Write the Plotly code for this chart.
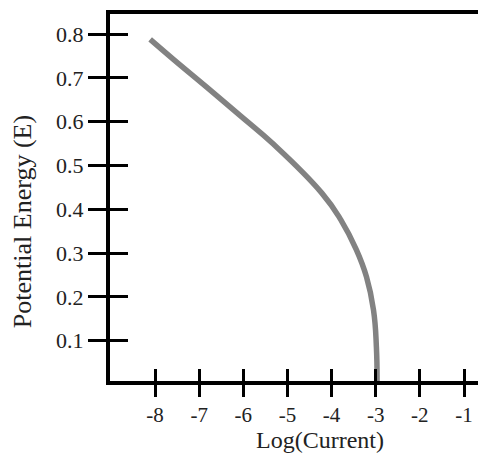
import plotly.graph_objects as go

# Data
log_current = [-8.11, -7.59, -6.83, -6.07, -5.32, -4.22, -3.79, -3.44, -3.21, -3.05, -2.985, -2.97]
potential = [0.788, 0.743, 0.679, 0.614, 0.549, 0.437, 0.376, 0.308, 0.246, 0.170, 0.086, 0.004]

x_tick_vals = [-8, -7, -6, -5, -4, -3, -2, -1]
x_tick_text = ["-8", "-7", "-6", "-5", "-4", "-3", "-2", "-1"]
y_tick_vals = [0.1, 0.2, 0.3, 0.4, 0.5, 0.6, 0.7, 0.8]
y_tick_text = ["0.1", "0.2", "0.3", "0.4", "0.5", "0.6", "0.7", "0.8"]

x_title = "Log(Current)"
y_title = "Potential Energy (E)"

x_range = [-9.02, -0.683]
y_range = [0.008, 0.846]

FONT = "Liberation Serif"
TXT = "#222222"

fig = go.Figure()
fig.add_trace(go.Scatter(
    x=log_current, y=potential, mode="lines",
    line=dict(color="#828282", width=5.5, shape="spline", smoothing=1.3),
    showlegend=False, hoverinfo="skip",
))
# invisible trace to activate the secondary (inside-tick) axes
fig.add_trace(go.Scatter(x=[None], y=[None], xaxis="x2", yaxis="y2", showlegend=False))

common = dict(showgrid=False, zeroline=False, tickcolor="black", tickwidth=3)

fig.update_layout(
    width=478, height=454,
    margin=dict(l=110, r=0, t=14, b=73),
    paper_bgcolor="white", plot_bgcolor="white",
    font=dict(family=FONT, color=TXT),
    xaxis=dict(range=x_range, tickvals=x_tick_vals, ticktext=x_tick_text,
               ticks="outside", ticklen=12, showline=True, linecolor="black",
               linewidth=4, mirror=True, tickfont=dict(family=FONT, size=21, color=TXT),
               fixedrange=True, **common),
    yaxis=dict(range=y_range, tickvals=y_tick_vals, ticktext=y_tick_text,
               ticks="outside", ticklen=18, showline=True, linecolor="black",
               linewidth=4, mirror=False, tickfont=dict(family=FONT, size=22, color=TXT),
               fixedrange=True, **common),
    xaxis2=dict(range=x_range, overlaying="x", anchor="y", side="bottom",
                tickvals=x_tick_vals, showticklabels=False, ticks="inside",
                ticklen=12, showline=False, fixedrange=True, **common),
    yaxis2=dict(range=y_range, overlaying="y", anchor="x", side="left",
                tickvals=y_tick_vals, showticklabels=False, ticks="inside",
                ticklen=18, showline=False, fixedrange=True, **common),
    annotations=[
        dict(text=x_title, xref="paper", yref="paper", x=0.571, y=-0.16,
             xanchor="center", yanchor="middle", showarrow=False,
             font=dict(family=FONT, size=24, color=TXT)),
        dict(text=y_title, xref="paper", yref="paper", x=-0.239, y=0.433,
             xanchor="center", yanchor="middle", showarrow=False, textangle=-90,
             font=dict(family=FONT, size=26, color=TXT)),
    ],
)

fig.write_html("out.html", config={"displayModeBar": False})
